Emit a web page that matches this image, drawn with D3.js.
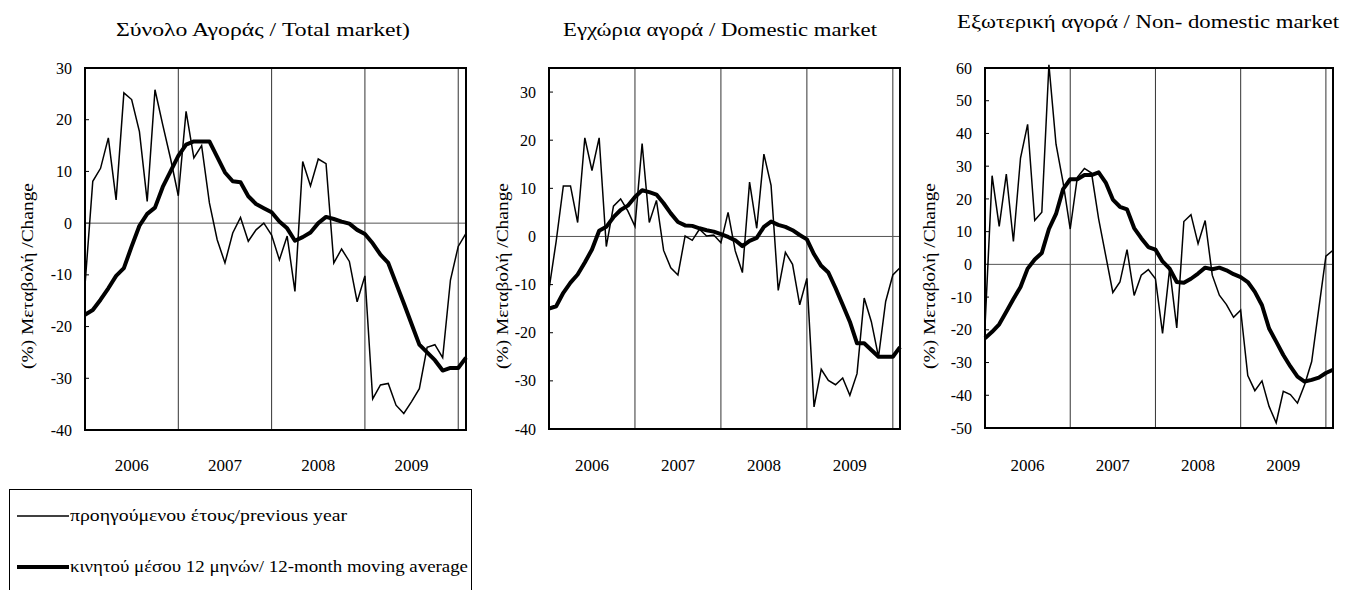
<!DOCTYPE html>
<html>
<head>
<meta charset="utf-8">
<script src="https://cdn.jsdelivr.net/npm/d3@7"></script>
<style>
  body { margin: 0; background: #fff; }
</style>
</head>
<body>
<svg id="chart" width="1348" height="590"></svg>
<script>
(function () {

  const serif = "Liberation Serif";

  // months Jan 2006 .. Feb 2010
  const months = d3.timeMonth.range(new Date(2006, 0, 1), new Date(2010, 2, 1));
  const years = ["2006", "2007", "2008", "2009"];

  // Total market
  const totalYoY = [-12, 8.1, 10.6, 16.5, 4.5, 25.2, 23.9, 17.7, 4.2, 25.8,
    19, 12.5, 5.3, 21.6, 12.6, 15, 3.9, -3.2, -7.7, -1.9,
    1.1, -3.5, -1.3, 0, -2.3, -7.1, -2.5, -13.2, 11.9, 7.2,
    12.4, 11.5, -7.7, -5, -7.4, -15.2, -10.2, -34, -31.3, -31,
    -35.2, -36.8, -34.5, -32, -24, -23.5, -26, -11, -4.5, -2];
  const totalMA = [-17.7, -16.8, -14.8, -12.6, -10.2, -8.7, -4.5, -0.5, 1.8, 3,
    7, 10, 13, 15.2, 15.8, 15.8, 15.8, 12.8, 9.8, 8.1,
    7.9, 5.2, 3.7, 2.9, 2.1, 0.3, -1, -3.4, -2.7, -1.8,
    0, 1.2, 0.8, 0.3, -0.1, -1.3, -2.1, -3.9, -6.1, -7.7,
    -11.6, -15.5, -19.5, -23.5, -25, -26.5, -28.5, -28, -28, -26];

  // Domestic market
  const domYoY = [-11, -1, 10.5, 10.5, 2.9, 20.5, 13.7, 20.5, -2.1, 6.3,
    7.8, 5.3, 2.1, 19.3, 2.9, 7.5, -2.9, -6.5, -8, 0.1,
    -0.8, 1.5, 0.1, 0.3, -1.3, 5, -3, -7.5, 11.3, 1.7,
    17.1, 10.6, -11.2, -3.3, -5.8, -14.2, -8.7, -35.4, -27.6, -29.9,
    -30.8, -29.4, -33, -28.5, -12.8, -17.7, -25, -13.5, -8, -6.5];
  const domMA = [-15, -14.5, -11.7, -9.6, -7.9, -5.4, -2.7, 1.2, 2, 4,
    5.5, 6.4, 8.2, 9.6, 9.2, 8.7, 6.9, 4.8, 3, 2.3,
    2.2, 1.7, 1.3, 1, 0.5, -0.1, -0.8, -2, -0.9, -0.3,
    2, 3.1, 2.4, 2, 1.3, 0.3, -0.6, -3.7, -6.1, -7.5,
    -10.7, -14.2, -17.7, -22.2, -22.2, -23.6, -25, -25, -25, -23];

  // Non-domestic market
  const extYoY = [-19, 27.1, 11.6, 27.6, 7, 32.5, 42.8, 13.4, 15.9, 61,
    36.7, 25, 10.8, 26.6, 29.3, 27.9, 13.9, 2.7, -8.6, -5.4,
    4.5, -9.5, -3.3, -1.6, -4.4, -21.1, -1.3, -19.4, 13.1, 15.2,
    6.3, 13.4, -3.3, -9.4, -12.3, -16.2, -14, -34, -38.6, -35.6,
    -43.4, -48.4, -38.8, -39.8, -42.4, -36.8, -29.7, -13.5, 2.5, 4.3];
  const extMA = [-22.6, -20.6, -18.3, -14.5, -10.6, -6.9, -1.3, 1.5, 3.5, 10.8,
    15.4, 23, 26, 26, 27.3, 27.3, 28.1, 25, 19.8, 17.6,
    16.8, 11.1, 8, 5.3, 4.5, 0.9, -1.3, -5.4, -5.6, -4.4,
    -2.8, -1, -1.5, -1, -1.8, -3, -3.9, -5.4, -8.4, -12.5,
    -19.6, -23.6, -27.7, -31.2, -34.3, -35.8, -35.3, -34.6, -33.2, -32.2];

  const totalTicks = [30, 20, 10, 0, -10, -20, -30, -40];
  const domTicks = [30, 20, 10, 0, -10, -20, -30, -40];
  const extTicks = [60, 50, 40, 30, 20, 10, 0, -10, -20, -30, -40, -50];

  const yTitle = "(%) Μεταβολή /Change";
  const legendLabels = ["προηγούμενου έτους/previous year",
    "κινητού μέσου 12 μηνών/ 12-month moving average"];

  const panels = [
    { title: "Σύνολο Αγοράς / Total market)", titleX: 116, titleY: 36, titleW: 294,
      left: 85, right: 466, top: 68, bottom: 430, domain: [-40, 30], ticks: totalTicks,
      yoy: totalYoY, ma: totalMA, yTitleX: 27 },
    { title: "Εγχώρια αγορά / Domestic market", titleX: 563, titleY: 36, titleW: 314,
      left: 549, right: 900, top: 68, bottom: 429, domain: [-40, 35], ticks: domTicks,
      yoy: domYoY, ma: domMA, yTitleX: 502 },
    { title: "Εξωτερική αγορά / Non- domestic market", titleX: 957, titleY: 28, titleW: 382,
      left: 985, right: 1333, top: 68, bottom: 428, domain: [-50, 60], ticks: extTicks,
      yoy: extYoY, ma: extMA, yTitleX: 929 }
  ];

  const svg = d3.select('#chart').attr('font-family', serif);

  panels.forEach((p) => {
    const x = d3.scalePoint().domain(months.map((d, i) => i)).range([p.left, p.right]);
    const y = d3.scaleLinear().domain(p.domain).range([p.bottom, p.top]);
    const g = svg.append('g');

    // title
    g.append('text')
      .attr('x', p.titleX).attr('y', p.titleY)
      .attr('textLength', p.titleW).attr('lengthAdjust', 'spacingAndGlyphs')
      .attr('font-family', serif)
      .attr('font-size', 18)
      .text(p.title);

    // y axis title
    g.append('text')
      .attr('transform', `translate(${p.yTitleX},276) rotate(-90)`)
      .attr('text-anchor', 'middle')
      .attr('dy', '0.35em')
      .attr('textLength', 186).attr('lengthAdjust', 'spacingAndGlyphs')
      .attr('font-family', serif)
      .attr('font-size', 17)
      .text(yTitle);

    // tick labels
    g.selectAll('.ytick').data(p.ticks).enter().append('text')
      .attr('x', p.left - 13)
      .attr('y', (d) => y(d))
      .attr('dy', '0.35em')
      .attr('text-anchor', 'end')
      .attr('font-family', serif)
      .attr('font-size', 16)
      .text((d) => d);

    g.selectAll('.ymark').data(p.ticks).enter().append('line')
      .attr('x1', p.left).attr('x2', p.left + 4)
      .attr('y1', (d) => y(d)).attr('y2', (d) => y(d))
      .attr('stroke', '#000');

    // year separators at each January after the first
    const janIdx = [12, 24, 36, 48];
    g.selectAll('.yline').data(janIdx).enter().append('line')
      .attr('x1', (d) => x(d)).attr('x2', (d) => x(d))
      .attr('y1', p.top).attr('y2', p.bottom)
      .attr('stroke', '#333').attr('stroke-width', 1);

    // zero line
    g.append('line')
      .attr('x1', p.left).attr('x2', p.right)
      .attr('y1', y(0)).attr('y2', y(0))
      .attr('stroke', '#555').attr('stroke-width', 1);

    // year labels centred on July
    g.selectAll('.year').data(years).enter().append('text')
      .attr('x', (d, i) => x(i * 12 + 6))
      .attr('y', 471)
      .attr('text-anchor', 'middle')
      .attr('font-family', serif)
      .attr('font-size', 17)
      .text((d) => d);

    const line = d3.line().x((d, i) => x(i)).y((d) => y(d));

    g.append('path').datum(p.yoy)
      .attr('d', line)
      .attr('fill', 'none').attr('stroke', '#000').attr('stroke-width', 1.5)
      .attr('stroke-linejoin', 'miter');

    g.append('path').datum(p.ma)
      .attr('d', line)
      .attr('fill', 'none').attr('stroke', '#000').attr('stroke-width', 4)
      .attr('stroke-linejoin', 'round');

    // frame
    g.append('rect')
      .attr('x', p.left).attr('y', p.top)
      .attr('width', p.right - p.left).attr('height', p.bottom - p.top)
      .attr('fill', 'none').attr('stroke', '#000').attr('stroke-width', 2);
  });

  // legend
  const lg = svg.append('g');
  lg.append('rect')
    .attr('x', 9.5).attr('y', 489.5).attr('width', 462).attr('height', 110)
    .attr('fill', 'none').attr('stroke', '#000').attr('stroke-width', 1);

  const legendY = [516, 567];
  const legendW = [277, 398];
  const legendStroke = [1.5, 4];
  legendLabels.forEach((t, i) => {
    lg.append('line')
      .attr('x1', 17).attr('x2', 69)
      .attr('y1', legendY[i]).attr('y2', legendY[i])
      .attr('stroke', '#000').attr('stroke-width', legendStroke[i]);
    lg.append('text')
      .attr('x', 70).attr('y', legendY[i] + 5)
      .attr('textLength', legendW[i]).attr('lengthAdjust', 'spacingAndGlyphs')
      .attr('font-family', serif)
      .attr('font-size', 16)
      .text(t);
  });

})();
</script>
</body>
</html>
